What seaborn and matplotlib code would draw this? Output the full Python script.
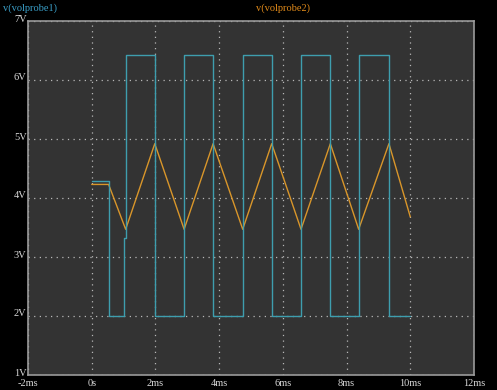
import matplotlib
matplotlib.use("Agg")
import matplotlib.pyplot as plt
import matplotlib.transforms as mtransforms
import seaborn as sns
import pandas as pd
import numpy as np

# Data (time in ms, voltage in V)
t_probe1 = [0.0, 0.53, 0.53, 1.02, 1.02, 1.066, 1.066, 1.98, 1.98,
            2.90, 2.90, 3.81, 3.81, 4.74, 4.74, 5.65, 5.65,
            6.57, 6.57, 7.49, 7.49, 8.38, 8.38, 9.33, 9.33, 10.0]
v_probe1 = [4.28, 4.28, 2.0, 2.0, 3.33, 3.33, 6.42, 6.42, 2.0,
            2.0, 6.42, 6.42, 2.0, 2.0, 6.42, 6.42, 2.0,
            2.0, 6.42, 6.42, 2.0, 2.0, 6.42, 6.42, 2.0, 2.0]

t_probe2 = [0.0, 0.53, 1.066, 1.98, 2.90, 3.81, 4.74, 5.65, 6.57, 7.49, 8.38, 9.33, 10.0]
v_probe2 = [4.23, 4.23, 3.47, 4.92, 3.47, 4.92, 3.47, 4.92, 3.47, 4.92, 3.47, 4.92, 3.68]

x_ticks = [-2, 0, 2, 4, 6, 8, 10, 12]
x_labels = ["-2ms", "0s", "2ms", "4ms", "6ms", "8ms", "10ms", "12ms"]
y_ticks = [1, 2, 3, 4, 5, 6, 7]
y_labels = ["1V", "2V", "3V", "4V", "5V", "6V", "7V"]

sns.set_style("dark")
plt.rcParams['font.family'] = ['Liberation Serif', 'DejaVu Serif']

fig = plt.figure(figsize=(4.97, 3.90), dpi=100, facecolor="black")
ax = fig.add_axes([28 / 497, 1 - 375 / 390, (474 - 28) / 497, (375 - 21) / 390])
ax.set_facecolor("#333333")

df1 = pd.DataFrame({"t": t_probe1, "v": v_probe1})
df2 = pd.DataFrame({"t": t_probe2, "v": v_probe2})

sns.lineplot(data=df2, x="t", y="v", ax=ax, color="#d9962a", linewidth=1.0,
             sort=False, estimator=None)
sns.lineplot(data=df1, x="t", y="v", ax=ax, color="#3e9eae", linewidth=1.0,
             sort=False, estimator=None)

ax.set_xlim(-2, 12)
ax.set_ylim(1, 7)
ax.set_xticks(x_ticks)
ax.set_xticklabels(x_labels)
ax.set_yticks(y_ticks)
ax.set_yticklabels(y_labels)
ax.set_xlabel("")
ax.set_ylabel("")
ax.tick_params(axis="both", length=0, colors="#d8d8d8", labelsize=7.5)
ax.tick_params(axis="y", pad=1)
ax.tick_params(axis="x", pad=3)

offset = mtransforms.ScaledTranslation(0, 3 / 100, fig.dpi_scale_trans)
for lab in ax.get_yticklabels():
    lab.set_transform(lab.get_transform() + offset)

ax.grid(True, color="#b8b8b8", linestyle=(0, (1, 3.5)), linewidth=0.9)
for s in ax.spines.values():
    s.set_visible(True)
    s.set_color("#9a9a9a")
    s.set_linewidth(1.2)

fig.text(3 / 497, 1 - 8 / 390, "v(volprobe1)", color="#3a9fc8", fontsize=7.5,
         ha="left", va="center")
fig.text(283 / 497, 1 - 8 / 390, "v(volprobe2)", color="#e08a1a", fontsize=7.5,
         ha="center", va="center")

fig.savefig("out.png", dpi=100, facecolor="black")
